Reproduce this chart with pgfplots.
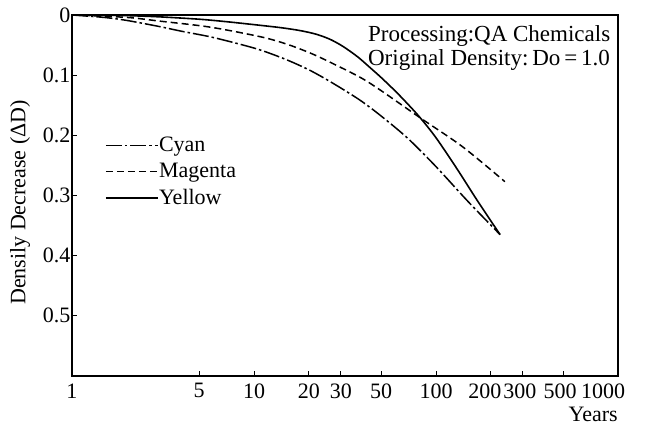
\documentclass[border=0pt]{standalone}
\usepackage{fontspec}
\setmainfont{Liberation Serif}
\usepackage{pgfplots}
\pgfplotsset{compat=1.18}
\begin{document}
\fontsize{22bp}{26bp}\selectfont
\begin{tikzpicture}
\begin{axis}[
  scale only axis, width=546bp, height=361bp,
  xmode=log, xmin=1, xmax=1000, ymin=0, ymax=0.6, y dir=reverse,
  xtick={1,5,10,20,30,50,100,200,300,500,1000},
  xticklabels={1,5,10,20,30,50,100,\hspace*{-12bp}200,\hspace*{-6bp}300,\hspace*{-6bp}500,\hspace*{-30bp}1000},
  ytick={0,0.1,0.2,0.3,0.4,0.5},
  yticklabels={0,0.1,0.2,0.3,0.4,0.5},
  /pgf/number format/assume math mode=true,
  tick align=inside, xtick pos=bottom, ytick pos=left,
  major tick length=5bp,
  axis line style={line width=1.3bp},
  every tick/.style={line width=1bp, black},
  yticklabel style={inner xsep=1.5bp},
  ylabel={Densily Decrease (ΔD)},
  ylabel style={at={(axis description cs:-0.0952,0.4806)}, anchor=center},
  xlabel={Years},
  xlabel style={at={(axis description cs:1,0)}, anchor=north east, yshift=-31bp, inner sep=0pt},
  legend style={at={(axis description cs:0.060,0.565)}, anchor=west, draw=none, fill=none,
    inner sep=0pt, row sep=0pt, nodes={inner xsep=0.5bp, inner ysep=4.2bp},
    /tikz/every even column/.style={column sep=0pt}},
  legend cell align=left,
  legend image code/.code={\draw[#1] (0bp,0bp) -- (52bp,0bp);},
]
\addplot[black, line width=1.5bp, dash pattern=on 16bp off 3bp on 2.5bp off 3bp, smooth] coordinates {
(1,0) (1.5,0.004) (2,0.009) (3,0.019) (4,0.027) (5.7,0.036) (8,0.047) (10.8,0.058) (15,0.074) (20.3,0.092) (27,0.113) (38,0.141) (50,0.168) (70,0.205) (100,0.252) (150,0.310) (225,0.365)
};
\addlegendentry{Cyan}
\addplot[black, line width=1.5bp, dash pattern=on 7bp off 4bp, smooth] coordinates {
(1,0) (2,0.004) (3,0.010) (5.7,0.020) (10.8,0.036) (15,0.048) (20.3,0.063) (26,0.078) (38,0.103) (49,0.124) (82,0.171) (140,0.219) (239,0.277)
};
\addlegendentry{Magenta}
\addplot[black, line width=1.6bp, smooth] coordinates {
(1,0) (1.5,0.0005) (2,0.001) (3,0.003) (5,0.007) (7,0.011) (10,0.016) (14,0.021) (18,0.026) (22,0.032) (26,0.040) (30,0.050) (34,0.061) (38,0.072) (44,0.089) (50,0.104) (60,0.127) (70,0.148) (82,0.171) (100,0.204) (130,0.255) (170,0.310) (225,0.365)
};
\addlegendentry{Yellow}
\node[anchor=north west, align=left, inner sep=0pt, font=\fontsize{23bp}{24bp}\selectfont] at (axis description cs:0.542,0.972) {Processing:QA Chemicals\\Original Density:\,Do\,=\,1.0};
\end{axis}
\pgfresetboundingbox
\path[use as bounding box] (current axis.south west) ++(-72bp,-53bp) rectangle ++(645bp,429bp);
\end{tikzpicture}
\end{document}
